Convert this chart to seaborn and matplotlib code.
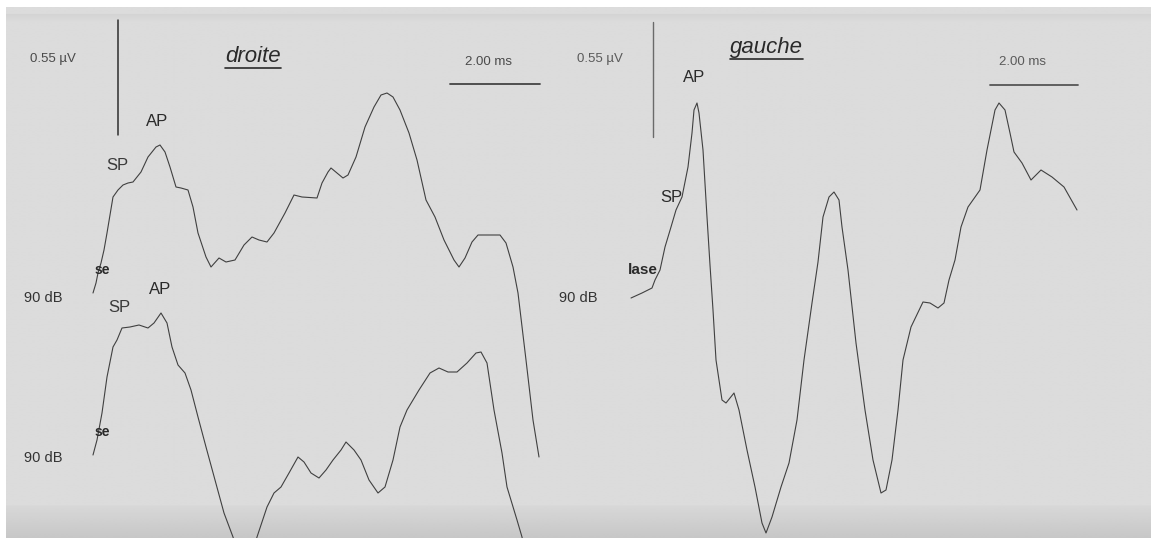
import numpy as np
import pandas as pd
import matplotlib.pyplot as plt
import seaborn as sns

# traces (image units: x to the right, y downward)
droite_90a_x = [93, 96, 98, 101, 104, 107, 113, 118, 123, 128, 133, 141, 148, 156, 160, 165, 170, 176, 181,
                188, 193, 198, 206, 211, 219, 226, 235, 244, 252, 259, 267, 274, 285, 294, 302, 317, 322, 328,
                331, 337, 343, 348, 356, 365, 374, 381, 387, 393, 400, 409, 417, 426, 435, 444, 454, 459, 465,
                472, 478, 489, 500, 506, 513, 518, 526, 533, 539]
droite_90a_y = [293, 283, 273, 263, 250, 233, 197, 190, 185, 183, 182, 172, 157, 147, 145, 152, 167, 187, 188,
                190, 207, 233, 257, 267, 258, 262, 260, 245, 237, 240, 242, 233, 213, 195, 197, 198, 183, 172,
                168, 173, 178, 175, 157, 127, 107, 95, 93, 97, 110, 133, 160, 200, 217, 240, 260, 267, 258,
                242, 235, 235, 235, 243, 267, 293, 360, 420, 457]

droite_90b_x = [93, 97, 102, 107, 113, 117, 122, 130, 139, 148, 154, 161, 167, 172, 178, 185, 191, 198, 206,
                215, 224, 233, 240, 250, 257, 267, 274, 281, 289, 298, 304, 311, 319, 326, 333, 341, 346, 354,
                361, 369, 378, 385, 393, 400, 407, 419, 430, 439, 448, 457, 467, 476, 481, 487, 494, 502, 507,
                517, 522, 526]
droite_90b_y = [455, 440, 413, 377, 347, 340, 328, 327, 325, 328, 323, 313, 323, 347, 365, 373, 390, 417, 447,
                480, 513, 537, 560, 560, 537, 507, 493, 487, 473, 457, 462, 473, 478, 470, 460, 450, 442, 450,
                460, 480, 493, 487, 460, 427, 410, 390, 373, 368, 372, 372, 363, 353, 352, 363, 410, 453, 487,
                520, 537, 560]

gauche_90_x = [631, 642, 652, 655, 660, 665, 671, 676, 682, 688, 692, 694, 697, 699, 703, 707, 710, 713, 716,
               722, 726, 734, 739, 747, 755, 762, 766, 772, 781, 789, 797, 804, 812, 818, 823, 829, 834, 839,
               842, 848, 856, 865, 873, 881, 886, 892, 898, 903, 911, 923, 930, 938, 944, 949, 955, 961, 968,
               980, 987, 995, 999, 1005, 1010, 1014, 1022, 1031, 1041, 1052, 1064, 1077]
gauche_90_y = [298, 293, 288, 280, 270, 247, 227, 210, 197, 167, 133, 110, 103, 113, 150, 217, 265, 310, 360,
               400, 403, 393, 410, 450, 487, 523, 533, 517, 487, 463, 420, 360, 303, 262, 217, 197, 192, 200,
               227, 270, 343, 410, 460, 493, 490, 460, 410, 360, 327, 302, 303, 308, 303, 280, 260, 227, 207,
               190, 150, 110, 103, 110, 133, 152, 163, 180, 170, 177, 187, 210]

traces = pd.concat([
    pd.DataFrame({'x': droite_90a_x, 'y': droite_90a_y, 'trace': 'droite_a'}),
    pd.DataFrame({'x': droite_90b_x, 'y': droite_90b_y, 'trace': 'droite_b'}),
    pd.DataFrame({'x': gauche_90_x, 'y': gauche_90_y, 'trace': 'gauche'}),
], ignore_index=True)

# labels placed at their reading positions
labels = [
    ('0.55 µV', 30, 59, 9.5, 'normal', '#4a4a4a'), ('2.00 ms', 465, 62, 9.5, 'normal', '#4a4a4a'),
    ('0.55 µV', 577, 59, 9.5, 'normal', '#5a5a5a'), ('2.00 ms', 999, 62, 9.5, 'normal', '#5a5a5a'),
    ('AP', 146, 122, 12, 'normal', '#2a2a2a'), ('SP', 106, 166, 12, 'normal', '#3a3a3a'),
    ('AP', 149, 290, 12, 'normal', '#2a2a2a'), ('SP', 108, 308, 12, 'normal', '#3a3a3a'),
    ('AP', 683, 78, 12, 'normal', '#2a2a2a'), ('SP', 660, 197, 12, 'normal', '#2a2a2a'),
    ('se', 95, 270, 10, 'bold', '#2a2a2a'), ('se', 95, 432, 10, 'bold', '#2a2a2a'),
    ('lase', 628, 270, 11, 'bold', '#2a2a2a'),
    ('90 dB', 24, 298, 10.5, 'normal', '#333333'), ('90 dB', 24, 458, 10.5, 'normal', '#333333'),
    ('90 dB', 559, 298, 10.5, 'normal', '#333333'),
]
titles = [('droite', 225, 56), ('gauche', 730, 47)]

sns.set_theme(style="white")
plt.rcParams['font.family'] = ['Liberation Sans', 'DejaVu Sans']

fig = plt.figure(figsize=(11.59, 5.38), dpi=100)
ax = fig.add_axes([0, 0, 1, 1])
ax.set_xlim(0, 1159)
ax.set_ylim(538, 0)
ax.axis('off')
fig.patch.set_facecolor('white')

# scanned paper background with darker shadow at the bottom
shade = np.full((538, 1), 0.86)
shade[505:, 0] = np.linspace(0.845, 0.78, 33)
shade[7:16, 0] = np.linspace(0.83, 0.86, 9)
ax.imshow(np.repeat(shade, 2, axis=1), cmap='gray', vmin=0, vmax=1, aspect='auto',
          extent=(6, 1151, 538, 7), zorder=0, interpolation='bilinear')

sns.lineplot(data=traces, x='x', y='y', units='trace', estimator=None, sort=False,
             color='#404040', linewidth=0.8, ax=ax, zorder=3)

# calibration bars
ax.plot([118, 118], [20, 135], color='#2e2e2e', lw=1.1, zorder=3)
ax.plot([653, 653], [22, 137], color='#6a6a6a', lw=1.0, zorder=3)
ax.plot([450, 540], [84, 84], color='#444444', lw=1.3, zorder=3)
ax.plot([990, 1078], [85, 85], color='#555555', lw=1.3, zorder=3)

for txt, x, y, size, weight, col in labels:
    ax.text(x, y, txt, fontsize=size, fontweight=weight, color=col, va='center', ha='left', zorder=4)

for txt, x, y in titles:
    t = ax.text(x, y, txt, fontsize=16, fontstyle='italic', color='#2a2a2a', va='center', ha='left', zorder=4)
    fig.canvas.draw()
    bb = t.get_window_extent().transformed(ax.transData.inverted())
    ax.plot([bb.x0, bb.x1], [y + 12, y + 12], color='#2a2a2a', lw=1.2, zorder=4)

ax.set_xlim(0, 1159)
ax.set_ylim(538, 0)
fig.savefig('out.png', dpi=100)
